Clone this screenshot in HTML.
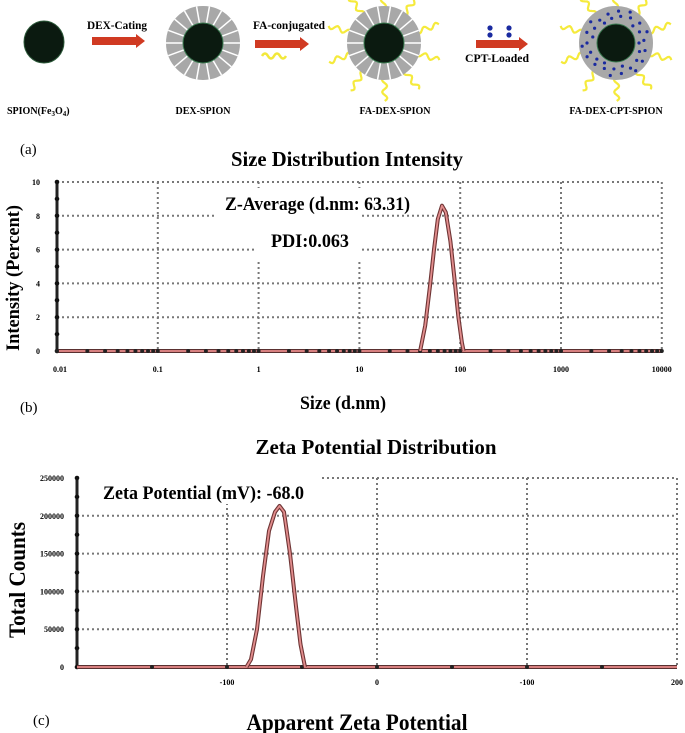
<!DOCTYPE html>
<html><head><meta charset="utf-8"><style>
body{margin:0;background:#fff;}
svg{display:block;font-family:"Liberation Serif",serif;font-weight:bold;}
</style></head><body>
<svg id="fig" width="685" height="733" viewBox="0 0 685 733">
<!-- Schematic -->
<g id="schem">
  <ellipse cx="44" cy="42" rx="20" ry="21" fill="#0b1a10" stroke="#2d5a3a" stroke-width="1"/>
  <text x="7" y="114" font-size="10">SPION(Fe<tspan font-size="7" dy="2">3</tspan><tspan dy="-2">O</tspan><tspan font-size="7" dy="2">4</tspan><tspan dy="-2">)</tspan></text>
  <text x="117" y="29" font-size="12" text-anchor="middle" textLength="60" lengthAdjust="spacingAndGlyphs">DEX-Cating</text>
  <rect x="92" y="37" width="44" height="8" fill="#d03a22"/>
  <polygon points="136,34 145,41 136,48" fill="#d03a22"/>
  <text x="203" y="114" font-size="10" text-anchor="middle">DEX-SPION</text>
  <text x="289" y="29" font-size="12" text-anchor="middle" textLength="72" lengthAdjust="spacingAndGlyphs">FA-conjugated</text>
  <rect x="255" y="40" width="45" height="8" fill="#d03a22"/>
  <polygon points="300,37 309,44 300,51" fill="#d03a22"/>
  <path d="M262,56 q3,-5 6,0 t6,0 t6,0 t6,0" stroke="#f2e83a" stroke-width="2.5" fill="none"/>
  <text x="395" y="114" font-size="10" text-anchor="middle">FA-DEX-SPION</text>
  <circle cx="490" cy="28" r="2.6" fill="#1a2aa0"/>
  <circle cx="509" cy="28" r="2.6" fill="#1a2aa0"/>
  <circle cx="490" cy="35" r="2.6" fill="#1a2aa0"/>
  <circle cx="509" cy="35" r="2.6" fill="#1a2aa0"/>
  <rect x="476" y="40" width="43" height="8" fill="#d03a22"/>
  <polygon points="519,37 528,44 519,51" fill="#d03a22"/>
  <text x="497" y="62" font-size="12" text-anchor="middle" textLength="64" lengthAdjust="spacingAndGlyphs">CPT-Loaded</text>
  <text x="616" y="114" font-size="10" text-anchor="middle">FA-DEX-CPT-SPION</text>
</g>

<!-- Panel labels -->
<text x="20" y="154" font-size="15" font-weight="normal">(a)</text>
<text x="20" y="412" font-size="15" font-weight="normal">(b)</text>
<text x="33" y="725" font-size="15" font-weight="normal">(c)</text>

<!-- Chart 1 -->
<g id="c1">
  <text x="347" y="166" font-size="21" text-anchor="middle" textLength="232" lengthAdjust="spacingAndGlyphs">Size Distribution Intensity</text>
  <g id="c1grid"></g>
  <rect x="214" y="188" width="148" height="36" fill="#fff"/>
  <rect x="255" y="224" width="107" height="38" fill="#fff"/>
  <g id="c1axes"></g>
  <text x="225" y="210" font-size="19" textLength="185" lengthAdjust="spacingAndGlyphs">Z-Average (d.nm: 63.31)</text>
  <text x="271" y="247" font-size="19" textLength="78" lengthAdjust="spacingAndGlyphs">PDI:0.063</text>
  <text transform="translate(19,278) rotate(-90)" font-size="19" text-anchor="middle" textLength="146" lengthAdjust="spacingAndGlyphs">Intensity (Percent)</text>
  <text x="343" y="409" font-size="19" text-anchor="middle" textLength="86" lengthAdjust="spacingAndGlyphs">Size (d.nm)</text>
</g>

<!-- Chart 2 -->
<g id="c2">
  <text x="376" y="454" font-size="21" text-anchor="middle" textLength="241" lengthAdjust="spacingAndGlyphs">Zeta Potential Distribution</text>
  <g id="c2grid"></g>
  <rect x="82" y="472" width="240" height="32" fill="#fff"/>
  <g id="c2axes"></g>
  <text x="103" y="499" font-size="19" textLength="201" lengthAdjust="spacingAndGlyphs">Zeta Potential (mV): -68.0</text>
  <text transform="translate(25,580) rotate(-90)" font-size="23" text-anchor="middle" textLength="116" lengthAdjust="spacingAndGlyphs">Total Counts</text>
  <text x="357" y="730" font-size="23" text-anchor="middle" textLength="221" lengthAdjust="spacingAndGlyphs">Apparent Zeta Potential</text>
</g>
</svg>
<script>
const NS="http://www.w3.org/2000/svg";
// ---- Chart 1 data ----
const sizeTickValues=[0.01,0.1,1,10,100,1000,10000];
const sizeTickLabels=["0.01","0.1","1","10","100","1000","10000"];
const intensityTicks=[0,2,4,6,8,10];
const sizeValues=[40,45,50,55,60,66,72,80,88,96,104,108];
const intensityValues=[0,1.5,3.8,6.0,7.8,8.6,8.2,6.5,4.2,2.0,0.5,0];
// ---- Chart 2 data ----
const zetaTickValues=[-100,0,100,200];
const zetaTickLabels=["-100","0","-100","200"];
const countTicks=[0,50000,100000,150000,200000,250000];
const zetaValues=[-87,-84,-80,-76,-72,-68,-65,-62,-58,-54,-51,-48];
const countValues=[0,10000,50000,120000,180000,205000,213000,205000,150000,80000,30000,0];

function mk(tag,attrs,parent){const e=document.createElementNS(NS,tag);for(const k in attrs)e.setAttribute(k,attrs[k]);parent.appendChild(e);return e;}

const x1=v=>57+(Math.log10(v)+2)*100.8;
const y1=v=>351-v*16.9;
const x2=v=>377+v*1.5;
const y2=v=>667-v*(189/250000);

function drawChart(gridG,axesG,xf,yf,xTicks,xLabels,yTicks,xs,ys,xMin,xMax,dotXs,yLabelX,xLabelY,yLabelFn){
  const grid=document.getElementById(gridG), axes=document.getElementById(axesG);
  const X0=xf(xMin), X1=xf(xMax), Y0=yf(yTicks[0]), Ytop=yf(yTicks[yTicks.length-1]);
  yTicks.forEach((t,i)=>{
    if(i>0){const l=mk('line',{x1:X0,x2:X1,y1:yf(t),y2:yf(t),stroke:'#777','stroke-width':2,'stroke-dasharray':'2 3'},grid);
    
    }
    const tx=mk('text',{x:yLabelX,y:yf(t)+3,'font-size':8,'text-anchor':'end'},axes);
    tx.textContent=yLabelFn(t);
    
    
  });
  xTicks.forEach((t,i)=>{
    const l=mk('line',{x1:xf(t),x2:xf(t),y1:Ytop,y2:Y0,stroke:'#777','stroke-width':2,'stroke-dasharray':'2 3'},grid);
    
    
    const tx=mk('text',{x:xf(t),y:xLabelY,'font-size':8,'text-anchor':'middle'},axes);
    tx.textContent=xLabels[i];
    
    
  });
  const ya=mk('line',{x1:X0,x2:X0,y1:Ytop-2,y2:Y0,stroke:'#222','stroke-width':3},axes);
  
  
  for(let y=Y0;y>=Ytop-1;y-=(Y0-Ytop)/10){const d=mk('circle',{cx:X0,cy:y,r:2.3,fill:'#111'},axes);
    
    }
  const xa=mk('line',{x1:X0,x2:X1,y1:Y0,y2:Y0,stroke:'#5a3030','stroke-width':4},axes);
  
  
  const xb=mk('line',{x1:X0,x2:X1,y1:Y0,y2:Y0,stroke:'#d78080','stroke-width':2},axes);
  
  
  dotXs.forEach(v=>{const d=mk('circle',{cx:xf(v),cy:Y0,r:2,fill:'#222'},axes);
    
    });
  const pts=xs.map((v,i)=>xf(v).toFixed(1)+','+yf(ys[i]).toFixed(1)).join(' ');
  const o=mk('polyline',{points:pts,fill:'none',stroke:'#6e3434','stroke-width':4,'stroke-linejoin':'round'},axes);
  
  
  const c=mk('polyline',{points:pts,fill:'none',stroke:'#e28d8d','stroke-width':1.8,'stroke-linejoin':'round'},axes);
  
  
}
const dots1=[];[0.01,0.1,1,10,100,1000].forEach(d=>{for(let k=1;k<10;k++)dots1.push(d*k);});dots1.push(10000);
drawChart('c1grid','c1axes',x1,y1,sizeTickValues.slice(1),sizeTickLabels.slice(1),intensityTicks,sizeValues,intensityValues,0.01,10000,dots1,40,372,t=>String(t));
(function(){const a=document.getElementById('c1axes');const t=mk('text',{x:x1(0.01)+3,y:372,'font-size':8,'text-anchor':'middle'},a);t.textContent=sizeTickLabels[0];

})();
drawChart('c2grid','c2axes',x2,y2,zetaTickValues,zetaTickLabels,countTicks,zetaValues,countValues,-200,200,[-150,-100,-50,0,50,100,150],64,685,t=>String(t));

// schematic decorations
const sg=document.getElementById('schem');
function shell(cx,cy,r1,r2,segs){
  const s=mk('circle',{cx:cx,cy:cy,r:(r1+r2)/2,fill:'none',stroke:'#a8a8a8','stroke-width':r2-r1},sg);
  
  
  if(segs){for(let i=0;i<segs;i++){const a=i*2*Math.PI/segs;
    const l=mk('line',{x1:cx+r1*Math.cos(a),y1:cy+r1*Math.sin(a),x2:cx+r2*Math.cos(a),y2:cy+r2*Math.sin(a),stroke:'#fff','stroke-width':1.5},sg);
    
    }}
}
function core(cx,cy,r){const c=mk('circle',{cx:cx,cy:cy,r:r,fill:'#0b1a10',stroke:'#3a7a50','stroke-width':1},sg);
  
  }
function squiggles(cx,cy,r,n,len){
  for(let i=0;i<n;i++){const a=i*2*Math.PI/n+0.3;let d='';
    for(let k=0;k<=16;k++){const rr=r+len*k/16;const off=2.5*Math.sin(k*Math.PI/4);
      const px=cx+rr*Math.cos(a)-off*Math.sin(a),py=cy+rr*Math.sin(a)+off*Math.cos(a);d+=(k?'L':'M')+px.toFixed(1)+','+py.toFixed(1);}
    const p=mk('path',{d:d,stroke:'#f5ea3c','stroke-width':2.2,fill:'none','stroke-linejoin':'round'},sg);
    
    }
}
squiggles(384,43,34,10,24);shell(384,43,20,37,18);core(384,43,20);
shell(203,43,20,37,18);core(203,43,20);
squiggles(616,43,34,10,24);shell(616,43,18,37,0);core(616,43,19);
for(let i=0;i<36;i++){const a=i*2*Math.PI/36*1.0+ (i%2)*0.08;const rr=23+(i*7%12);
  const d=mk('circle',{cx:616+rr*Math.cos(a),cy:43+rr*Math.sin(a),r:1.6,fill:'#1a2aa0'},sg);
  
  }
</script>
</body></html>
